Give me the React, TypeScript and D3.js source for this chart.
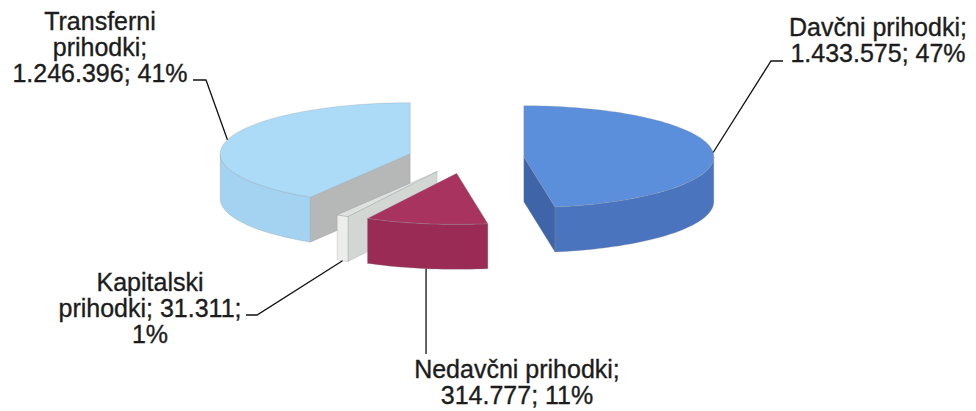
import React from 'react';
import * as d3 from 'd3';

// revenue structure (EUR), order as in the source workbook
const categories = ["Davčni prihodki", "Nedavčni prihodki", "Kapitalski prihodki", "Transferni prihodki"];
const values = [1433575, 314777, 31311, 1246396];
const labelLines = [
  ["Davčni prihodki;", "1.433.575; 47%"],
  ["Nedavčni prihodki;", "314.777; 11%"],
  ["Kapitalski", "prihodki; 31.311;", "1%"],
  ["Transferni", "prihodki;", "1.246.396; 41%"],
];
const topColors = ["#5b8edb", "#a8335f", "#dfe1df", "#abdbf7"];
const rimColors = ["#4a75be", "#992b55", "#eceeec", "#a3d3f1"];
const wallColors = ["#3f64a8", "#8a244b", "#d3d7d3", "#b6b8b7"];

const W = 976, H = 411;
const cx = 466, cy = 158, rx = 190, ry = 51, depth = 45, explode = 58;

// label anchor x and first baseline
const labelPos = [
  { x: 878, y: 36 },
  { x: 517, y: 378 },
  { x: 150, y: 291 },
  { x: 100, y: 30 },
];

const line = d3.line<[number, number]>();

function proj(ox: number, oy: number, a: number, r = 1, z = 0): [number, number] {
  return [ox + rx * r * Math.sin(a), oy - ry * r * Math.cos(a) + z];
}

function arcPts(ox: number, oy: number, a0: number, a1: number, z = 0) {
  const n = Math.max(2, Math.ceil(Math.abs(a1 - a0) / 0.03));
  return d3.range(n + 1).map(i => proj(ox, oy, a0 + (a1 - a0) * i / n, 1, z));
}

export default function App() {
  const arcs = d3.pie<number>().sort(null).startAngle(0).endAngle(2 * Math.PI)(values);

  const slices = arcs.map((d, i) => {
    const mid = (d.startAngle + d.endAngle) / 2;
    const ox = cx + explode * Math.sin(mid);
    const oy = cy - explode * (ry / rx) * Math.cos(mid);
    const a0 = d.startAngle, a1 = d.endAngle;
    const faces: { d: string; fill: string }[] = [];
    // cut walls
    const wall = (a: number) => {
      const t = proj(ox, oy, a);
      return line([[ox, oy], t, [t[0], t[1] + depth], [ox, oy + depth]]) + "Z";
    };
    if (Math.sin(a0) < -1e-6) faces.push({ d: wall(a0), fill: wallColors[i] });
    if (Math.sin(a1) > 1e-6) faces.push({ d: wall(a1), fill: wallColors[i] });
    // outer rim (front half only)
    const f0 = Math.max(a0, Math.PI / 2), f1 = Math.min(a1, 1.5 * Math.PI);
    if (f1 > f0) {
      const top = arcPts(ox, oy, f0, f1);
      const bot = arcPts(ox, oy, f0, f1, depth).reverse();
      faces.push({ d: line([...top, ...bot]) + "Z", fill: rimColors[i] });
    }
    // top face
    faces.push({ d: line([[ox, oy], ...arcPts(ox, oy, a0, a1)]) + "Z", fill: topColors[i] });
    return { i, ox, oy, mid, faces };
  });

  // draw back slices first
  const order = [3, 2, 1, 0];

  // leader anchors on the slices
  const s = slices;
  const aDav = proj(s[0].ox, s[0].oy, s[0].mid);
  const aNed = proj(s[1].ox, s[1].oy, s[1].mid, 1, depth);
  const aKap = proj(s[2].ox, s[2].oy, s[2].mid, 1, depth);
  const aTra = proj(s[3].ox, s[3].oy, s[3].mid);
  const leaders: [number, number][][] = [
    [[783, 61], [771, 61], aDav],
    [aNed, [aNed[0], 354]],
    [[246, 315], [257, 315], aKap],
    [[193, 80], [206, 80], aTra],
  ];

  return (
    <div style={{ position: 'absolute', left: 0, top: 0 }}>
      <svg width={W} height={H} viewBox={`0 0 ${W} ${H}`} style={{ display: 'block', background: '#fff' }}>
        {order.map(k => (
          <g key={categories[k]}>
            {slices[k].faces.map((f, j) => (
              <path key={j} d={f.d} fill={f.fill} stroke="#8a9099" strokeOpacity={0.35} strokeWidth={0.8} strokeLinejoin="round" />
            ))}
          </g>
        ))}
        {leaders.map((pts, i) => (
          <path key={i} d={line(pts) || ""} fill="none" stroke="#111" strokeWidth={1.3} />
        ))}
        {labelLines.map((ls, i) => (
          <text key={i} fontFamily="'Liberation Sans', Arial, sans-serif" fontSize={25} fill="#1c1c1c"
            stroke="#1c1c1c" strokeWidth={0.35} textAnchor="middle">
            {ls.map((t, j) => (
              <tspan key={j} x={labelPos[i].x} y={labelPos[i].y + j * 26}>{t}</tspan>
            ))}
          </text>
        ))}
      </svg>
    </div>
  );
}
